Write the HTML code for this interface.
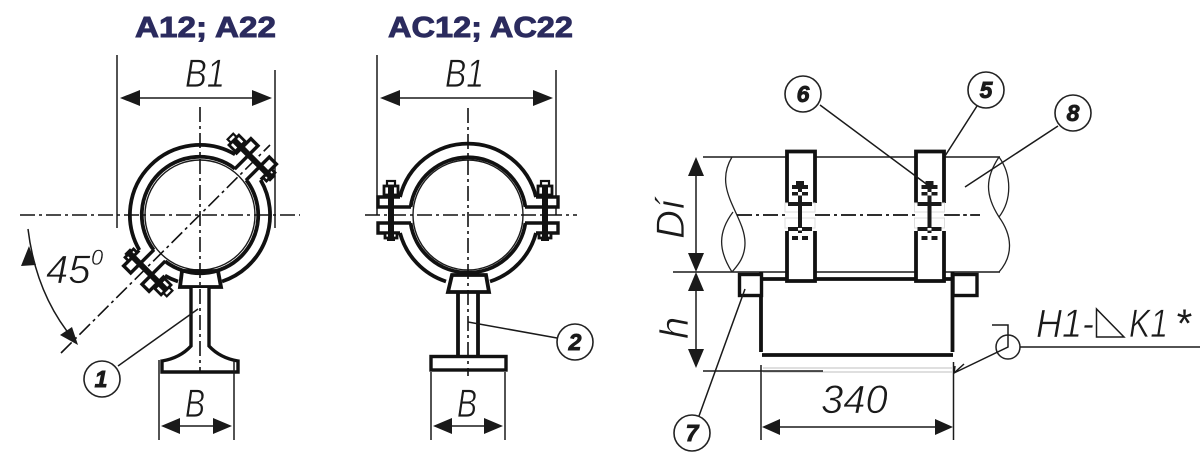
<!DOCTYPE html>
<html><head><meta charset="utf-8"><style>
html,body{margin:0;padding:0;background:#fff;width:1200px;height:456px;overflow:hidden}
svg{display:block}
.d{font-family:"Liberation Sans",sans-serif;font-style:italic;font-size:40px;fill:#1a1a1a;stroke:#fff;stroke-width:.7px}
.n{font-family:"Liberation Sans",sans-serif;font-style:italic;font-weight:bold;font-size:23px;fill:#1a1a1a;stroke:#1a1a1a;stroke-width:.9px;text-anchor:middle}
.t{font-family:"Liberation Sans",sans-serif;font-weight:bold;font-size:29px;fill:#2b2b5e;stroke:#2b2b5e;stroke-width:.9px}
.c{fill:none;stroke:#111;stroke-width:1.6;stroke-dasharray:15 4 3 4}
.h{fill:none;stroke:#111;stroke-width:3.8}
.m{fill:none;stroke:#1a1a1a;stroke-width:1.5}
.a{fill:#1a1a1a;stroke:none}
.o{fill:#fff;stroke:#222;stroke-width:1.6}
</style></head><body>
<svg width="1200" height="456" viewBox="0 0 1200 456" xmlns="http://www.w3.org/2000/svg">
<defs>
<g id="fl">
<path d="M57,-8H90V-18H68M57,8H90V18H68" fill="#fff" stroke="#111" stroke-width="3.4"/>
<rect x="73" y="-34" width="8" height="5" fill="#fff" stroke="#111" stroke-width="2.2"/>
<rect x="70" y="-29" width="14" height="9" fill="#fff" stroke="#111" stroke-width="2.8"/>
<rect x="71" y="18" width="12" height="5" fill="#fff" stroke="#111" stroke-width="2.8"/>
<rect x="74" y="-28" width="6" height="52" fill="#111"/>
<rect x="73" y="23" width="8" height="3" fill="#111"/>
</g>
<g id="bolt">
<rect x="-15" y="203" width="30" height="9" fill="#fff" stroke="#ddd"/>
<rect x="-15" y="218" width="30" height="10" fill="#fff" stroke="#ddd"/>
<rect x="-4" y="181" width="8" height="4" fill="#1a1a1a"/>
<rect x="-8" y="185" width="16" height="4" fill="#1a1a1a"/>
<rect x="-2" y="189" width="4" height="3" fill="#1a1a1a"/>
<rect x="-8" y="192" width="16" height="3.500" fill="#1a1a1a"/>
<rect x="-2" y="192" width="4" height="3.500" fill="#fff"/>
<rect x="-2" y="195.500" width="4" height="7" fill="#1a1a1a"/>
<rect x="-12" y="202" width="24" height="4" fill="#1a1a1a"/>
<rect x="-2" y="206" width="4" height="27" fill="#1a1a1a"/>
<rect x="-12" y="227" width="24" height="4" fill="#1a1a1a"/>
<rect x="-2" y="228" width="4" height="2.500" fill="#fff"/>
<rect x="-8" y="236" width="16" height="4" fill="#1a1a1a"/>
<rect x="-2" y="233" width="4" height="3" fill="#fff"/>
<rect x="-2" y="236" width="4" height="4" fill="#fff"/>
</g>
</defs>

<text class="t" x="135" y="37" textLength="141" lengthAdjust="spacingAndGlyphs">A12; A22</text>
<text class="t" x="388" y="37" textLength="185" lengthAdjust="spacingAndGlyphs">AC12; AC22</text>

<!-- LEFT CLAMP -->
<path class="m" d="M117,55V228M275,70V228"/>
<path class="m" d="M135,98H255" stroke-width="2"/>
<polygon class="a" points="120,98 140,90 140,106"/>
<polygon class="a" points="272,98 252,90 252,106"/>
<text class="d" x="185" y="87" textLength="40" lengthAdjust="spacingAndGlyphs">B1</text>
<g transform="translate(200,215)">
<circle r="55" fill="none" stroke="#1a1a1a" stroke-width="1.4"/>
<path class="h" d="M35.1,-60.6A70,70 0 0 0 -60.6,35.1M-35.1,60.6A70,70 0 0 0 -22,66.5M22,66.5A70,70 0 0 0 60.6,-35.1"/>
<path class="h" d="M35,-46.3A58,58 0 0 0 -46.3,35M-35,46.3A58,58 0 0 0 46.3,-35"/>
<use href="#fl" transform="rotate(-45)"/>
<use href="#fl" transform="rotate(135)"/>
</g>
<path class="h" fill="#fff" d="M182,271H218L221,287H180Z"/>
<path d="M191,288V346Q180,358 162,361V372H238V361Q220,358 209,346V288" fill="#fff" stroke="#111" stroke-width="3.4"/>
<path class="c" d="M20,215H300M200,107V372M61,353L270,145"/>
<path class="m" d="M159,360V440M234,360V440"/>
<path class="m" d="M170,426H222"/>
<polygon class="a" points="161,426 180,418 180,434"/>
<polygon class="a" points="232,426 213,418 213,434"/>
<text class="d" x="185" y="417" textLength="20" lengthAdjust="spacingAndGlyphs">B</text>
<path class="m" d="M28,229Q36,295 74,340"/>
<polygon class="a" points="29,246 21,266 36,265"/>
<polygon class="a" points="78,345 60,335 72,327"/>
<text class="d" x="46" y="283">45</text>
<text class="d" style="font-size:22px;stroke-width:.4px" x="91" y="265">0</text>
<path class="m" d="M118,366L198,309"/>
<circle class="o" cx="102" cy="379" r="18"/>
<text class="n" x="101" y="387">1</text>

<!-- MIDDLE CLAMP -->
<path class="m" d="M377,55V215M556,70V215"/>
<path class="m" d="M395,98H540" stroke-width="2"/>
<polygon class="a" points="380,98 400,90 400,106"/>
<polygon class="a" points="553,98 533,90 533,106"/>
<text class="d" x="445" y="87" textLength="39" lengthAdjust="spacingAndGlyphs">B1</text>
<g transform="translate(468,215)">
<circle r="55" fill="none" stroke="#1a1a1a" stroke-width="1.4"/>
<path class="h" d="M-68,-18A70,70 0 0 1 68,-18M-68,18A70,70 0 0 0 -22,66.5M22,66.5A70,70 0 0 0 68,18"/>
<path class="h" d="M-57.4,-8A58,58 0 0 1 57.4,-8M-57.4,8A58,58 0 0 0 57.4,8"/>
<use href="#fl"/>
<use href="#fl" transform="scale(-1,1)"/>
</g>
<path class="h" fill="#fff" d="M452,275H486L489,292H448Z"/>
<path class="h" d="M458,293V355M478,293V355"/>
<rect x="431" y="356.500" width="75" height="13.500" fill="#fff" stroke="#111" stroke-width="3.4"/>
<path class="c" d="M365,215H577M468,108V376"/>
<path class="m" d="M431,372V440M505,372V440"/>
<path class="m" d="M442,426H494"/>
<polygon class="a" points="433,426 452,418 452,434"/>
<polygon class="a" points="503,426 484,418 484,434"/>
<text class="d" x="457" y="417" textLength="20" lengthAdjust="spacingAndGlyphs">B</text>
<path class="m" d="M468,322L557,338"/>
<circle class="o" cx="575" cy="342" r="18"/>
<text class="n" x="575" y="350">2</text>

<!-- RIGHT VIEW -->
<path class="m" d="M703,157H1000M673,272H1000"/>
<path d="M732,157C712,190 745,215 745,243C745,258 737,266 732,272M733,212C718,232 718,250 732,272" fill="none" stroke="#222" stroke-width="1.3"/>
<path d="M999,157C1012,175 1012,200 999,217C985,195 985,178 999,157M999,217C1012,235 1014,255 999,272" fill="none" stroke="#222" stroke-width="1.3"/>
<path d="M737,215H980" class="c"/>
<rect x="786" y="151" width="28" height="130" fill="#fff" stroke="none"/>
<rect x="916" y="151" width="28" height="130" fill="#fff" stroke="none"/>
<path class="h" d="M787,203V151.500H815V203M787,231V281H815V231"/>
<path class="h" d="M916,203V151.500H944V203M916,231V281H944V231"/>
<use href="#bolt" x="800"/>
<use href="#bolt" x="929.500"/>
<path class="c" d="M737,215H785M815,215H915M944,215H980"/>
<path class="h" d="M762,279H786M815,279H916M944,279H953"/>
<path class="h" d="M761,272V352M952.500,272V352M762,355H953"/>
<rect x="739.500" y="274.500" width="22" height="21" fill="#fff" stroke="#111" stroke-width="3.4"/>
<rect x="953" y="274.500" width="24" height="21" fill="#fff" stroke="#111" stroke-width="3.4"/>
<path d="M763,368H952M763,372H952" stroke="#ccc" stroke-width="1.2" fill="none"/>
<path class="m" d="M703,371H823"/>
<path class="m" d="M761,365V440M953.500,362V440"/>
<path class="m" d="M770,427H945"/>
<polygon class="a" points="762,427 780,419 780,435"/>
<polygon class="a" points="953,427 935,419 935,435"/>
<text class="d" x="821" y="413">340</text>
<path class="m" d="M696,170V260M696,285V355"/>
<polygon class="a" points="696,157 688,176 704,176"/>
<polygon class="a" points="696,272 688,253 704,253"/>
<polygon class="a" points="696,272 688,291 704,291"/>
<polygon class="a" points="696,368 688,349 704,349"/>
<text class="d" transform="translate(684,239) rotate(-90)">Dí</text>
<text class="d" transform="translate(688,339) rotate(-90)">h</text>
<path class="m" d="M820,105L929,186M977,106L945,156M1058,126L965,187M699,416L745,289"/>
<circle class="o" cx="803" cy="94" r="18"/>
<text class="n" x="803" y="102">6</text>
<circle class="o" cx="986" cy="90" r="18"/>
<text class="n" x="986" y="98">5</text>
<circle class="o" cx="1073" cy="113" r="18"/>
<text class="n" x="1073" y="121">8</text>
<circle class="o" cx="692" cy="433" r="18"/>
<text class="n" x="692" y="441">7</text>

<!-- WELD -->
<circle cx="1008" cy="347" r="12" fill="none" stroke="#222" stroke-width="1.5"/>
<path class="m" d="M992,325H1008V347L954,373M955,366L954,373L964,364M1020,347H1200"/>
<text class="d" x="1036" y="337" textLength="58" lengthAdjust="spacingAndGlyphs">H1-</text>
<path class="m" d="M1096.500,309V337H1124Z"/>
<text class="d" x="1129" y="337" textLength="39" lengthAdjust="spacingAndGlyphs">K1</text>
<text class="d" x="1175" y="337" style="stroke:none">*</text>
</svg>
</body></html>
